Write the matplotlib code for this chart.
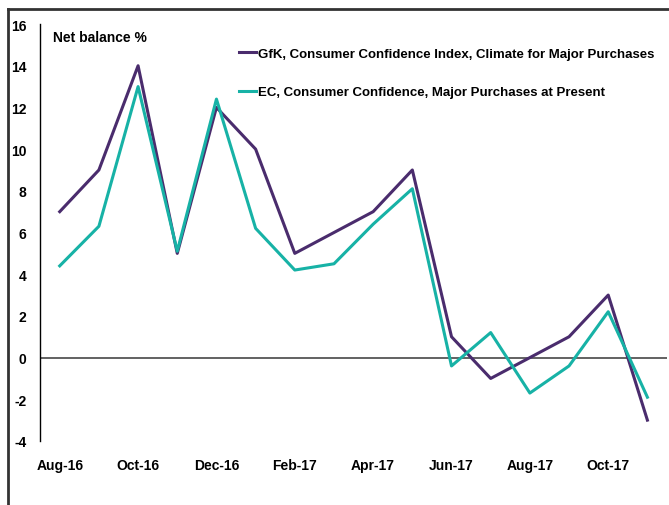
import matplotlib.pyplot as plt
from matplotlib.lines import Line2D

plt.rcParams['font.family'] = ['Liberation Sans', 'DejaVu Sans']
plt.rcParams['font.weight'] = 'bold'
plt.rcParams['axes.unicode_minus'] = False

# Data
months = ['Aug-16', 'Sep-16', 'Oct-16', 'Nov-16', 'Dec-16', 'Jan-17', 'Feb-17', 'Mar-17',
          'Apr-17', 'May-17', 'Jun-17', 'Jul-17', 'Aug-17', 'Sep-17', 'Oct-17', 'Nov-17']
gfk = [7, 9, 14, 5, 12, 10, 5, 6, 7, 9, 1, -1, 0, 1, 3, -3]
ec = [4.4, 6.3, 13, 5.1, 12.4, 6.2, 4.2, 4.5, 6.4, 8.1, -0.4, 1.2, -1.7, -0.4, 2.2, -1.9]
x = list(range(len(months)))

fig = plt.figure(figsize=(6.69, 5.06), dpi=100)
ax = fig.add_axes([0.060, 0.1265, 0.937, 0.824])

ax.axhline(0, color='#555555', lw=1.3, zorder=1)
ax.plot(x, gfk, color='#4A2C6D', lw=2.2, label='GfK, Consumer Confidence Index, Climate for Major Purchases', zorder=2)
ax.plot(x, ec, color='#17B2A6', lw=2.2, label='EC, Consumer Confidence, Major Purchases at Present', zorder=3)

ax.set_xlim(-0.5, 15.5)
ax.set_ylim(-4, 16)
ax.set_yticks(range(-4, 17, 2))
ax.set_xticks(x[::2])
ax.set_xticklabels(months[::2])
ax.tick_params(axis='y', length=0, pad=10, labelsize=10)
ax.tick_params(axis='x', length=0, pad=12, labelsize=10)
for lbl in ax.get_yticklabels() + ax.get_xticklabels():
    lbl.set_fontweight('bold')

for s in ['top', 'right', 'bottom']:
    ax.spines[s].set_visible(False)
ax.spines['left'].set_linewidth(1.0)

ax.text(0.02, 0.985, 'Net balance %', transform=ax.transAxes, fontsize=10,
        fontweight='bold', va='top', ha='left')

leg = ax.legend(loc='upper right', bbox_to_anchor=(0.999, 0.972), frameon=False,
                handlelength=1.3, handletextpad=0.15, labelspacing=2.0,
                prop={'weight': 'bold', 'size': 9.5})

# outer frame (top and left edges)
fig.add_artist(Line2D([0.012, 1.0], [0.980, 0.980], transform=fig.transFigure, color='#333333', lw=2))
fig.add_artist(Line2D([0.012, 0.012], [0.0, 0.980], transform=fig.transFigure, color='#333333', lw=2))

plt.savefig('out.png', dpi=100)
